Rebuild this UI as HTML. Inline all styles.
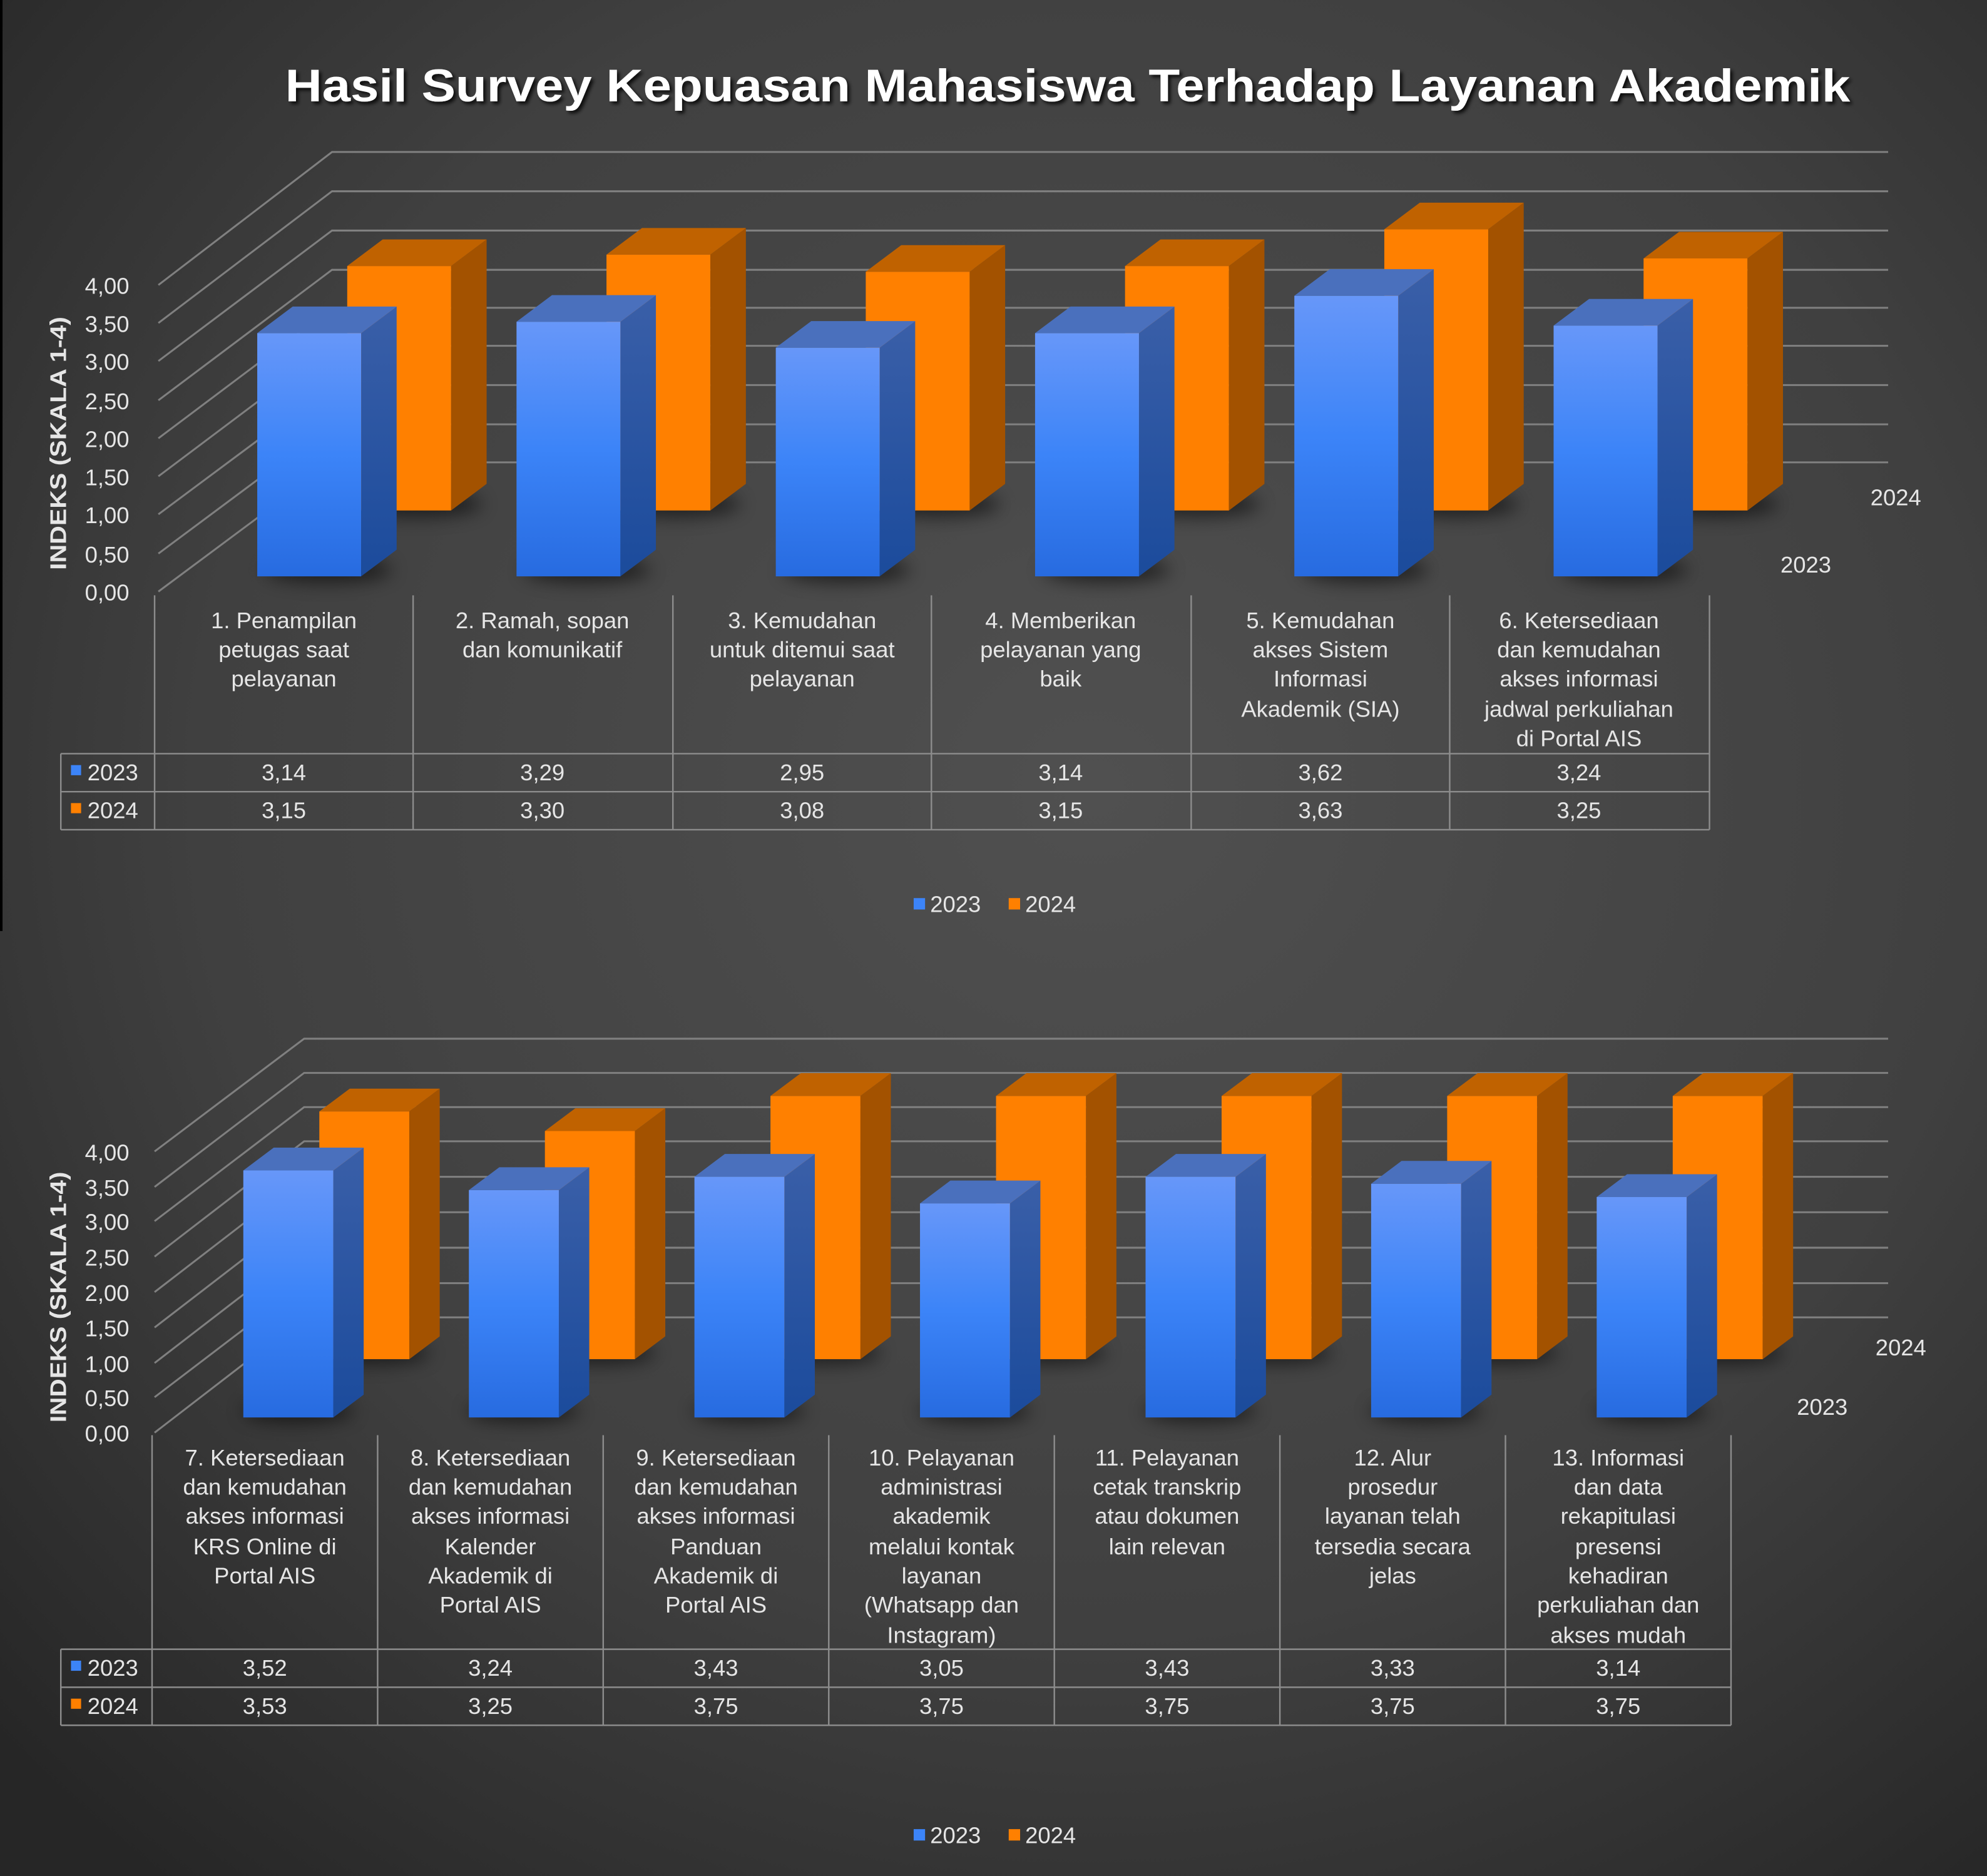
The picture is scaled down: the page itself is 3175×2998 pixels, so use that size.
<!DOCTYPE html>
<html><head><meta charset="utf-8"><style>
html,body{margin:0;padding:0;background:#3a3a3a}
svg{display:block}
text{font-family:"Liberation Sans",Arial,sans-serif;fill:#e6e6e6}
</style></head><body>
<svg width="3175" height="2998" viewBox="0 0 1568 1481" preserveAspectRatio="none" xmlns="http://www.w3.org/2000/svg">
<defs>
<radialGradient id="bg" cx="0.55" cy="0.42" r="0.75">
<stop offset="0" stop-color="#505050"/><stop offset="0.6" stop-color="#404040"/><stop offset="1" stop-color="#262626"/>
</radialGradient>
<linearGradient id="bf" x1="0" y1="0" x2="0" y2="1"><stop offset="0" stop-color="#6797f9"/><stop offset="0.5" stop-color="#3c84f8"/><stop offset="1" stop-color="#276be0"/></linearGradient>
<linearGradient id="bs" x1="0" y1="0" x2="0" y2="1"><stop offset="0" stop-color="#3a5fa8"/><stop offset="1" stop-color="#1b4b9c"/></linearGradient>
<filter id="sh" x="-50%" y="-50%" width="200%" height="200%"><feGaussianBlur stdDeviation="7"/></filter>
<filter id="ts" x="-5%" y="-50%" width="110%" height="200%"><feDropShadow dx="2" dy="2" stdDeviation="1.5" flood-color="#000" flood-opacity="0.8"/></filter>
</defs>
<rect width="1568" height="1481" fill="url(#bg)"/>
<rect x="0" y="0" width="2" height="735" fill="#000"/>

<text x="225" y="80" textLength="1235" lengthAdjust="spacingAndGlyphs" font-size="36" font-weight="bold" fill="#fff" style="fill:#fff" filter="url(#ts)">Hasil Survey Kepuasan Mahasiswa Terhadap Layanan Akademik</text>

<!-- TOP CHART GRID -->
<g stroke="#808080" stroke-width="1.5" fill="none">
<polyline points="125,467 262,365 1490,365"/>
<polyline points="125,437 262,335 1490,335"/>
<polyline points="125,406 262,304 1490,304"/>
<polyline points="125,376 262,273 1490,273"/>
<polyline points="125,346 262,243 1490,243"/>
<polyline points="125,316 262,213 1490,213"/>
<polyline points="125,285 262,182 1490,182"/>
<polyline points="125,255 262,151 1490,151"/>
<polyline points="125,225 262,120 1490,120"/>
</g>
<g font-size="18" text-anchor="end">
<text x="102" y="474">0,00</text><text x="102" y="444">0,50</text><text x="102" y="413">1,00</text><text x="102" y="383">1,50</text><text x="102" y="353">2,00</text><text x="102" y="323">2,50</text><text x="102" y="292">3,00</text><text x="102" y="262">3,50</text><text x="102" y="232">4,00</text>
</g>
<text transform="translate(52,350) rotate(-90)" text-anchor="middle" font-size="18" font-weight="bold" textLength="200" lengthAdjust="spacingAndGlyphs">INDEKS (SKALA 1-4)</text>
<text x="1476" y="399" font-size="18">2024</text>
<text x="1405" y="452" font-size="18">2023</text>

<g fill="#000" opacity="0.55" filter="url(#sh)">
<ellipse cx="330" cy="398" rx="50" ry="10"/><ellipse cx="534" cy="398" rx="50" ry="10"/><ellipse cx="739" cy="398" rx="50" ry="10"/><ellipse cx="944" cy="398" rx="50" ry="10"/><ellipse cx="1148" cy="398" rx="50" ry="10"/><ellipse cx="1353" cy="398" rx="50" ry="10"/>
<ellipse cx="259" cy="450" rx="50" ry="10"/><ellipse cx="463" cy="450" rx="50" ry="10"/><ellipse cx="668" cy="450" rx="50" ry="10"/><ellipse cx="873" cy="450" rx="50" ry="10"/><ellipse cx="1077" cy="450" rx="50" ry="10"/><ellipse cx="1282" cy="450" rx="50" ry="10"/>
</g>
<g>
<rect x="274" y="210" width="82" height="193" fill="#ff8000"/><polygon points="356,210 384,189 384,382 356,403" fill="#a35200"/><polygon points="274,210 302,189 384,189 356,210" fill="#c06200"/>
<rect x="478.6" y="201" width="82" height="202" fill="#ff8000"/><polygon points="560.6,201 588.6,180 588.6,382 560.6,403" fill="#a35200"/><polygon points="478.6,201 506.6,180 588.6,180 560.6,201" fill="#c06200"/>
<rect x="683.2" y="214.5" width="82" height="188.5" fill="#ff8000"/><polygon points="765.2,214.5 793.2,193.5 793.2,382 765.2,403" fill="#a35200"/><polygon points="683.2,214.5 711.2,193.5 793.2,193.5 765.2,214.5" fill="#c06200"/>
<rect x="887.8" y="210" width="82" height="193" fill="#ff8000"/><polygon points="969.8,210 997.8,189 997.8,382 969.8,403" fill="#a35200"/><polygon points="887.8,210 915.8,189 997.8,189 969.8,210" fill="#c06200"/>
<rect x="1092.4" y="181" width="82" height="222" fill="#ff8000"/><polygon points="1174.4,181 1202.4,160 1202.4,382 1174.4,403" fill="#a35200"/><polygon points="1092.4,181 1120.4,160 1202.4,160 1174.4,181" fill="#c06200"/>
<rect x="1297" y="204" width="82" height="199" fill="#ff8000"/><polygon points="1379,204 1407,183 1407,382 1379,403" fill="#a35200"/><polygon points="1297,204 1325,183 1407,183 1379,204" fill="#c06200"/>
</g>
<g>
<rect x="203" y="263" width="82" height="192" fill="url(#bf)"/><polygon points="285,263 313,242 313,434 285,455" fill="url(#bs)"/><polygon points="203,263 231,242 313,242 285,263" fill="#4a70bd"/>
<rect x="407.6" y="254" width="82" height="201" fill="url(#bf)"/><polygon points="489.6,254 517.6,233 517.6,434 489.6,455" fill="url(#bs)"/><polygon points="407.6,254 435.6,233 517.6,233 489.6,254" fill="#4a70bd"/>
<rect x="612.2" y="274.5" width="82" height="180.5" fill="url(#bf)"/><polygon points="694.2,274.5 722.2,253.5 722.2,434 694.2,455" fill="url(#bs)"/><polygon points="612.2,274.5 640.2,253.5 722.2,253.5 694.2,274.5" fill="#4a70bd"/>
<rect x="816.8" y="263" width="82" height="192" fill="url(#bf)"/><polygon points="898.8,263 926.8,242 926.8,434 898.8,455" fill="url(#bs)"/><polygon points="816.8,263 844.8,242 926.8,242 898.8,263" fill="#4a70bd"/>
<rect x="1021.4" y="233.5" width="82" height="221.5" fill="url(#bf)"/><polygon points="1103.4,233.5 1131.4,212.5 1131.4,434 1103.4,455" fill="url(#bs)"/><polygon points="1021.4,233.5 1049.4,212.5 1131.4,212.5 1103.4,233.5" fill="#4a70bd"/>
<rect x="1226" y="257" width="82" height="198" fill="url(#bf)"/><polygon points="1308,257 1336,236 1336,434 1308,455" fill="url(#bs)"/><polygon points="1226,257 1254,236 1336,236 1308,257" fill="#4a70bd"/>
</g>

<g stroke="#8c8c8c" stroke-width="1.2" fill="none">
<line x1="122" y1="470" x2="122" y2="655"/><line x1="326" y1="470" x2="326" y2="655"/><line x1="531" y1="470" x2="531" y2="655"/><line x1="735" y1="470" x2="735" y2="655"/><line x1="940" y1="470" x2="940" y2="655"/><line x1="1144" y1="470" x2="1144" y2="655"/><line x1="1349" y1="470" x2="1349" y2="655"/>
<line x1="48" y1="595" x2="1349" y2="595"/><line x1="48" y1="625" x2="1349" y2="625"/><line x1="48" y1="655" x2="1349" y2="655"/>
<line x1="48" y1="595" x2="48" y2="655"/>
</g>
<g font-size="18" text-anchor="middle">
<text x="224" y="496">1. Penampilan</text><text x="224" y="519">petugas saat</text><text x="224" y="542">pelayanan</text>
<text x="428" y="496">2. Ramah, sopan</text><text x="428" y="519">dan komunikatif</text>
<text x="633" y="496">3. Kemudahan</text><text x="633" y="519">untuk ditemui saat</text><text x="633" y="542">pelayanan</text>
<text x="837" y="496">4. Memberikan</text><text x="837" y="519">pelayanan yang</text><text x="837" y="542">baik</text>
<text x="1042" y="496">5. Kemudahan</text><text x="1042" y="519">akses Sistem</text><text x="1042" y="542">Informasi</text><text x="1042" y="566">Akademik (SIA)</text>
<text x="1246" y="496">6. Ketersediaan</text><text x="1246" y="519">dan kemudahan</text><text x="1246" y="542">akses informasi</text><text x="1246" y="566">jadwal perkuliahan</text><text x="1246" y="589">di Portal AIS</text>
<text x="224" y="616">3,14</text><text x="428" y="616">3,29</text><text x="633" y="616">2,95</text><text x="837" y="616">3,14</text><text x="1042" y="616">3,62</text><text x="1246" y="616">3,24</text>
<text x="224" y="646">3,15</text><text x="428" y="646">3,30</text><text x="633" y="646">3,08</text><text x="837" y="646">3,15</text><text x="1042" y="646">3,63</text><text x="1246" y="646">3,25</text>
</g>
<rect x="56" y="604" width="8" height="8" fill="#3c84f8"/><text x="69" y="616" font-size="18">2023</text>
<rect x="56" y="634" width="8" height="8" fill="#ff8000"/><text x="69" y="646" font-size="18">2024</text>
<rect x="721" y="709" width="9" height="9" fill="#3c84f8"/><text x="734" y="720" font-size="18">2023</text>
<rect x="796" y="709" width="9" height="9" fill="#ff8000"/><text x="809" y="720" font-size="18">2024</text>

<!-- BOTTOM CHART GRID -->
<g stroke="#808080" stroke-width="1.5" fill="none">
<polyline points="122,1131 240,1040 1490,1040"/>
<polyline points="122,1103 240,1013 1490,1013"/>
<polyline points="122,1076 240,985 1490,985"/>
<polyline points="122,1048 240,957 1490,957"/>
<polyline points="122,1020 240,929 1490,929"/>
<polyline points="122,992 240,901 1490,901"/>
<polyline points="122,964 240,874 1490,874"/>
<polyline points="122,937 240,847 1490,847"/>
<polyline points="122,909 240,820 1490,820"/>
</g>
<g font-size="18" text-anchor="end">
<text x="102" y="1138">0,00</text><text x="102" y="1110">0,50</text><text x="102" y="1083">1,00</text><text x="102" y="1055">1,50</text><text x="102" y="1027">2,00</text><text x="102" y="999">2,50</text><text x="102" y="971">3,00</text><text x="102" y="944">3,50</text><text x="102" y="916">4,00</text>
</g>
<text transform="translate(52,1024) rotate(-90)" text-anchor="middle" font-size="18" font-weight="bold" textLength="198" lengthAdjust="spacingAndGlyphs">INDEKS (SKALA 1-4)</text>
<text x="1480" y="1070" font-size="18">2024</text>
<text x="1418" y="1117" font-size="18">2023</text>

<g fill="#000" opacity="0.55" filter="url(#sh)">
<ellipse cx="295" cy="1068" rx="44" ry="9"/><ellipse cx="473" cy="1068" rx="44" ry="9"/><ellipse cx="651" cy="1068" rx="44" ry="9"/><ellipse cx="829" cy="1068" rx="44" ry="9"/><ellipse cx="1007" cy="1068" rx="44" ry="9"/><ellipse cx="1185" cy="1068" rx="44" ry="9"/><ellipse cx="1363" cy="1068" rx="44" ry="9"/>
<ellipse cx="235" cy="1114" rx="44" ry="9"/><ellipse cx="413" cy="1114" rx="44" ry="9"/><ellipse cx="591" cy="1114" rx="44" ry="9"/><ellipse cx="769" cy="1114" rx="44" ry="9"/><ellipse cx="947" cy="1114" rx="44" ry="9"/><ellipse cx="1125" cy="1114" rx="44" ry="9"/><ellipse cx="1303" cy="1114" rx="44" ry="9"/>
</g>
<g>
<rect x="252" y="877.4" width="71" height="195.6" fill="#ff8000"/><polygon points="323,877.4 347,859.4 347,1055 323,1073" fill="#a35200"/><polygon points="252,877.4 276,859.4 347,859.4 323,877.4" fill="#c06200"/>
<rect x="430" y="892.9" width="71" height="180.1" fill="#ff8000"/><polygon points="501,892.9 525,874.9 525,1055 501,1073" fill="#a35200"/><polygon points="430,892.9 454,874.9 525,874.9 501,892.9" fill="#c06200"/>
<rect x="608" y="865.2" width="71" height="207.8" fill="#ff8000"/><polygon points="679,865.2 703,847.2 703,1055 679,1073" fill="#a35200"/><polygon points="608,865.2 632,847.2 703,847.2 679,865.2" fill="#c06200"/>
<rect x="786" y="865.2" width="71" height="207.8" fill="#ff8000"/><polygon points="857,865.2 881,847.2 881,1055 857,1073" fill="#a35200"/><polygon points="786,865.2 810,847.2 881,847.2 857,865.2" fill="#c06200"/>
<rect x="964" y="865.2" width="71" height="207.8" fill="#ff8000"/><polygon points="1035,865.2 1059,847.2 1059,1055 1035,1073" fill="#a35200"/><polygon points="964,865.2 988,847.2 1059,847.2 1035,865.2" fill="#c06200"/>
<rect x="1142" y="865.2" width="71" height="207.8" fill="#ff8000"/><polygon points="1213,865.2 1237,847.2 1237,1055 1213,1073" fill="#a35200"/><polygon points="1142,865.2 1166,847.2 1237,847.2 1213,865.2" fill="#c06200"/>
<rect x="1320" y="865.2" width="71" height="207.8" fill="#ff8000"/><polygon points="1391,865.2 1415,847.2 1415,1055 1391,1073" fill="#a35200"/><polygon points="1320,865.2 1344,847.2 1415,847.2 1391,865.2" fill="#c06200"/>
</g>
<g>
<rect x="192" y="924" width="71" height="195" fill="url(#bf)"/><polygon points="263,924 287,906 287,1101 263,1119" fill="url(#bs)"/><polygon points="192,924 216,906 287,906 263,924" fill="#4a70bd"/>
<rect x="370" y="939.5" width="71" height="179.5" fill="url(#bf)"/><polygon points="441,939.5 465,921.5 465,1101 441,1119" fill="url(#bs)"/><polygon points="370,939.5 394,921.5 465,921.5 441,939.5" fill="#4a70bd"/>
<rect x="548" y="929" width="71" height="190" fill="url(#bf)"/><polygon points="619,929 643,911 643,1101 619,1119" fill="url(#bs)"/><polygon points="548,929 572,911 643,911 619,929" fill="#4a70bd"/>
<rect x="726" y="950" width="71" height="169" fill="url(#bf)"/><polygon points="797,950 821,932 821,1101 797,1119" fill="url(#bs)"/><polygon points="726,950 750,932 821,932 797,950" fill="#4a70bd"/>
<rect x="904" y="929" width="71" height="190" fill="url(#bf)"/><polygon points="975,929 999,911 999,1101 975,1119" fill="url(#bs)"/><polygon points="904,929 928,911 999,911 975,929" fill="#4a70bd"/>
<rect x="1082" y="934.5" width="71" height="184.5" fill="url(#bf)"/><polygon points="1153,934.5 1177,916.5 1177,1101 1153,1119" fill="url(#bs)"/><polygon points="1082,934.5 1106,916.5 1177,916.5 1153,934.5" fill="#4a70bd"/>
<rect x="1260" y="945" width="71" height="174" fill="url(#bf)"/><polygon points="1331,945 1355,927 1355,1101 1331,1119" fill="url(#bs)"/><polygon points="1260,945 1284,927 1355,927 1331,945" fill="#4a70bd"/>
</g>

<g stroke="#8c8c8c" stroke-width="1.2" fill="none">
<line x1="120" y1="1133" x2="120" y2="1362"/><line x1="298" y1="1133" x2="298" y2="1362"/><line x1="476" y1="1133" x2="476" y2="1362"/><line x1="654" y1="1133" x2="654" y2="1362"/><line x1="832" y1="1133" x2="832" y2="1362"/><line x1="1010" y1="1133" x2="1010" y2="1362"/><line x1="1188" y1="1133" x2="1188" y2="1362"/><line x1="1366" y1="1133" x2="1366" y2="1362"/>
<line x1="48" y1="1302" x2="1366" y2="1302"/><line x1="48" y1="1332" x2="1366" y2="1332"/><line x1="48" y1="1362" x2="1366" y2="1362"/>
<line x1="48" y1="1302" x2="48" y2="1362"/>
</g>
<g font-size="18" text-anchor="middle">
<text x="209" y="1157">7. Ketersediaan</text><text x="209" y="1180">dan kemudahan</text><text x="209" y="1203">akses informasi</text><text x="209" y="1227">KRS Online di</text><text x="209" y="1250">Portal AIS</text>
<text x="387" y="1157">8. Ketersediaan</text><text x="387" y="1180">dan kemudahan</text><text x="387" y="1203">akses informasi</text><text x="387" y="1227">Kalender</text><text x="387" y="1250">Akademik di</text><text x="387" y="1273">Portal AIS</text>
<text x="565" y="1157">9. Ketersediaan</text><text x="565" y="1180">dan kemudahan</text><text x="565" y="1203">akses informasi</text><text x="565" y="1227">Panduan</text><text x="565" y="1250">Akademik di</text><text x="565" y="1273">Portal AIS</text>
<text x="743" y="1157">10. Pelayanan</text><text x="743" y="1180">administrasi</text><text x="743" y="1203">akademik</text><text x="743" y="1227">melalui kontak</text><text x="743" y="1250">layanan</text><text x="743" y="1273">(Whatsapp dan</text><text x="743" y="1297">Instagram)</text>
<text x="921" y="1157">11. Pelayanan</text><text x="921" y="1180">cetak transkrip</text><text x="921" y="1203">atau dokumen</text><text x="921" y="1227">lain relevan</text>
<text x="1099" y="1157">12. Alur</text><text x="1099" y="1180">prosedur</text><text x="1099" y="1203">layanan telah</text><text x="1099" y="1227">tersedia secara</text><text x="1099" y="1250">jelas</text>
<text x="1277" y="1157">13. Informasi</text><text x="1277" y="1180">dan data</text><text x="1277" y="1203">rekapitulasi</text><text x="1277" y="1227">presensi</text><text x="1277" y="1250">kehadiran</text><text x="1277" y="1273">perkuliahan dan</text><text x="1277" y="1297">akses mudah</text>
<text x="209" y="1323">3,52</text><text x="387" y="1323">3,24</text><text x="565" y="1323">3,43</text><text x="743" y="1323">3,05</text><text x="921" y="1323">3,43</text><text x="1099" y="1323">3,33</text><text x="1277" y="1323">3,14</text>
<text x="209" y="1353">3,53</text><text x="387" y="1353">3,25</text><text x="565" y="1353">3,75</text><text x="743" y="1353">3,75</text><text x="921" y="1353">3,75</text><text x="1099" y="1353">3,75</text><text x="1277" y="1353">3,75</text>
</g>
<rect x="56" y="1311" width="8" height="8" fill="#3c84f8"/><text x="69" y="1323" font-size="18">2023</text>
<rect x="56" y="1341" width="8" height="8" fill="#ff8000"/><text x="69" y="1353" font-size="18">2024</text>
<rect x="721" y="1444" width="9" height="9" fill="#3c84f8"/><text x="734" y="1455" font-size="18">2023</text>
<rect x="796" y="1444" width="9" height="9" fill="#ff8000"/><text x="809" y="1455" font-size="18">2024</text>
</svg>
</body></html>
